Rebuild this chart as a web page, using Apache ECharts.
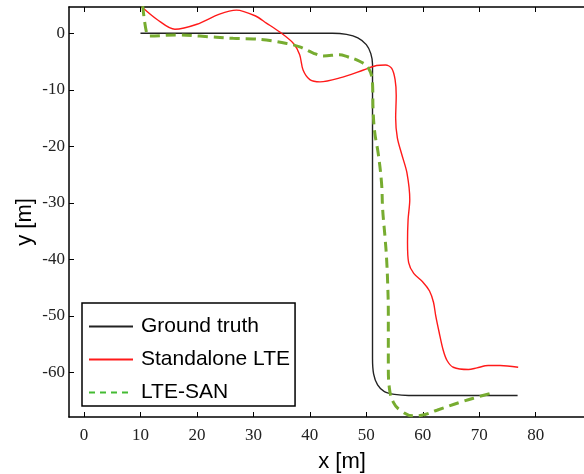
<!DOCTYPE html>
<html><head><meta charset="utf-8">
<script src="https://cdn.jsdelivr.net/npm/echarts@6/dist/echarts.min.js"></script>
<style>html,body{margin:0;padding:0;background:#fff}#c{width:584px;height:474px}</style>
</head><body><div id="c"></div>
<script>
// Data (x [m], y [m])
const groundTruth = [[10,0],[44,0],[46.5,-0.2],[48.5,-0.8],[50,-2],[50.8,-3.6],[51.1,-5.5],[51.1,-30],[51.1,-57.5],[51.3,-60.3],[52,-62.2],[53.2,-63.4],[55,-63.9],[57.5,-64.1],[67,-64.1],[76.8,-64.1]];
const standaloneLTE = [[10.2,4.7],[13,2.4],[16.1,0.7],[20,1.6],[24,3.4],[27,4.1],[30.3,3.1],[32.3,1.8],[34.7,0.2],[37.1,-1.8],[38.2,-3.8],[38.8,-6.5],[40,-8.2],[41.8,-8.6],[45.3,-7.9],[49.5,-6.5],[51.8,-5.7],[53.4,-5.6],[54.5,-6.2],[55.1,-8.2],[55.3,-11],[55.2,-15],[55.5,-18.5],[56.3,-21.5],[57.2,-24.7],[57.7,-29.4],[57.4,-33],[57.3,-37],[57.5,-40.6],[58.4,-42.5],[60,-44],[61.2,-45.6],[61.9,-47.6],[62.3,-50],[62.9,-52.9],[63.6,-56],[64.3,-57.9],[65.4,-59.1],[68.1,-59.5],[69.6,-59.2],[71.6,-58.8],[73.7,-58.8],[76.9,-59.1]];
const lteSAN = [[10.4,4.8],[11.1,0],[11.6,-0.5],[16.4,-0.3],[20.5,-0.5],[26.4,-0.9],[30,-1],[32.3,-1.2],[35.9,-1.8],[38.2,-2.4],[40.6,-3.5],[42.4,-4],[45.3,-3.8],[46.5,-4.1],[48.9,-5],[50.4,-6.2],[51.1,-8.8],[51.2,-13.5],[51.5,-17.6],[52.1,-21.2],[52.7,-26.5],[52.9,-31.2],[53.3,-35.9],[53.6,-40],[53.8,-44.7],[53.9,-49.4],[53.9,-52.9],[53.9,-58.8],[54.1,-62.9],[54.8,-65.3],[56,-66.7],[58.3,-67.7],[59.8,-67.6],[62.5,-66.7],[66.6,-65.3],[69.6,-64.4],[72.8,-63.5]];
const xTicks = [0,10,20,30,40,50,60,70,80];
const yTicks = [0,-10,-20,-30,-40,-50,-60];
const seriesNames = ['Ground truth','Standalone LTE','LTE-SAN'];

const chart = echarts.init(document.getElementById('c'), null, {renderer:'canvas'});
const tickFont = {fontFamily:'Liberation Serif', fontSize:17, color:'#222'};
const axisLine = {show:true, onZero:false, lineStyle:{color:'#000', width:1.5}};
const xBase = {type:'value', min:-2.66, max:88.56, splitLine:{show:false}, axisLine: axisLine};
chart.setOption({
  animation:false,
  backgroundColor:'#fff',
  grid:{left:69, top:7, right:0, bottom:57, containLabel:false},
  xAxis:[
    Object.assign({}, xBase, {position:'bottom',
      axisTick:{show:true, inside:true, length:5, customValues:xTicks, lineStyle:{color:'#000'}},
      axisLabel:Object.assign({margin:10, customValues:xTicks}, tickFont)}),
    Object.assign({}, xBase, {position:'top',
      axisTick:{show:true, inside:true, length:5, customValues:xTicks, lineStyle:{color:'#000'}},
      axisLabel:{show:false}})
  ],
  yAxis:{type:'value', min:-67.9, max:4.65, splitLine:{show:false}, axisLine:axisLine,
    axisTick:{show:true, inside:true, length:5, customValues:yTicks, lineStyle:{color:'#000'}},
    axisLabel:Object.assign({margin:4, customValues:yTicks}, tickFont)},
  legend:{
    orient:'vertical', left:82, top:303,
    backgroundColor:'#fff', borderColor:'#000', borderWidth:1.5, borderRadius:0,
    padding:[13,5,3,6], itemGap:12, itemWidth:44, itemHeight:14,
    itemStyle:{opacity:0},
    textStyle:{fontFamily:'Liberation Sans', fontSize:21, color:'#000', padding:[0,0,0,3]},
    data:[
      {name:seriesNames[0]},
      {name:seriesNames[1]},
      {name:seriesNames[2], lineStyle:{color:'#44bb33', width:2, type:[6,5]}}
    ]
  },
  graphic:[
    {type:'text', style:{text:'x [m]', x:342, y:462, align:'center', verticalAlign:'middle', font:'22px "Liberation Sans"', fill:'#000'}},
    {type:'text', style:{text:'y [m]', align:'center', verticalAlign:'middle', font:'22px "Liberation Sans"', fill:'#000'}, x:25, y:222, rotation:Math.PI/2}
  ],
  series:[
    {name:seriesNames[0], type:'line', data:groundTruth, smooth:0.3, showSymbol:false, symbol:'none', lineStyle:{color:'#222', width:1.4}, itemStyle:{color:'#222'}},
    {name:seriesNames[1], type:'line', data:standaloneLTE, smooth:0.3, showSymbol:false, symbol:'none', lineStyle:{color:'#ff1a1a', width:1.4}, itemStyle:{color:'#ff1a1a'}},
    {name:seriesNames[2], type:'line', data:lteSAN, smooth:0.4, showSymbol:false, symbol:'none', lineStyle:{color:'#77ac30', width:3, type:[10,6]}, itemStyle:{color:'#77ac30'}}
  ]
});
</script></body></html>
